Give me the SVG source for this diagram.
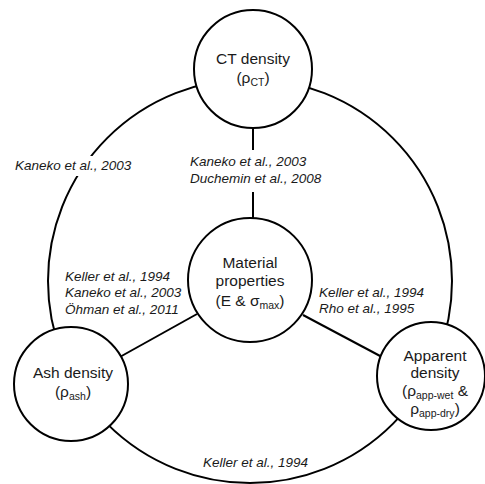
<svg xmlns="http://www.w3.org/2000/svg" width="485" height="484" viewBox="0 0 485 484">
<style>
.c{fill:#fff;stroke:#000;stroke-width:2}
.ln{stroke:#000;stroke-width:2;fill:none}
.n{font-family:"Liberation Sans",Arial,sans-serif;font-size:15.5px;fill:#1a1a1a;text-anchor:middle}
.r{font-family:"Liberation Sans",Arial,sans-serif;font-size:13.5px;font-style:italic;fill:#1a1a1a}
.s{font-size:10.5px}
</style>
<rect width="485" height="484" fill="#fff"/>
<g id="connectors">
<circle class="ln" cx="250" cy="281" r="202"/>
<rect x="12" y="156" width="122" height="20" fill="#fff"/>
<line class="ln" x1="253" y1="128" x2="253" y2="150"/>
<line class="ln" x1="253" y1="192" x2="253" y2="219"/>
<line class="ln" x1="197" y1="314" x2="118" y2="358"/>
<line class="ln" x1="303" y1="315" x2="382" y2="357"/>
</g>
<g id="ct">
<circle class="c" cx="253" cy="69" r="59"/>
<text class="n" x="253" y="64">CT density</text>
<text class="n" x="253" y="83">(ρ<tspan class="s" dy="3">CT</tspan><tspan dy="-3">)</tspan></text>
</g>
<g id="material">
<circle class="c" cx="250" cy="280" r="62"/>
<text class="n" x="250" y="268">Material</text>
<text class="n" x="250" y="286">properties</text>
<text class="n" x="250" y="306">(E &amp; σ<tspan class="s" dy="3">max</tspan><tspan dy="-3">)</tspan></text>
</g>
<g id="ash">
<circle class="c" cx="71" cy="384" r="57"/>
<text class="n" x="73" y="378">Ash density</text>
<text class="n" x="73" y="397">(ρ<tspan class="s" dy="3">ash</tspan><tspan dy="-3">)</tspan></text>
</g>
<g id="apparent">
<circle class="c" cx="431" cy="376" r="54"/>
<text class="n" x="435" y="361">Apparent</text>
<text class="n" x="435" y="378">density</text>
<text class="n" x="435" y="396">(ρ<tspan class="s" dy="3">app-wet</tspan><tspan dy="-3"> &amp;</tspan></text>
<text class="n" x="435" y="414">ρ<tspan class="s" dy="3">app-dry</tspan><tspan dy="-3">)</tspan></text>
</g>
<g id="refs">
<text class="r" x="15" y="170">Kaneko et al., 2003</text>
<text class="r" x="190" y="166">Kaneko et al., 2003</text>
<text class="r" x="190" y="183">Duchemin et al., 2008</text>
<text class="r" x="65" y="281">Keller et al., 1994</text>
<text class="r" x="65" y="297">Kaneko et al., 2003</text>
<text class="r" x="65" y="314">Öhman et al., 2011</text>
<text class="r" x="319" y="297">Keller et al., 1994</text>
<text class="r" x="319" y="313">Rho et al., 1995</text>
<text class="r" x="203" y="467">Keller et al., 1994</text>
</g>
</svg>
